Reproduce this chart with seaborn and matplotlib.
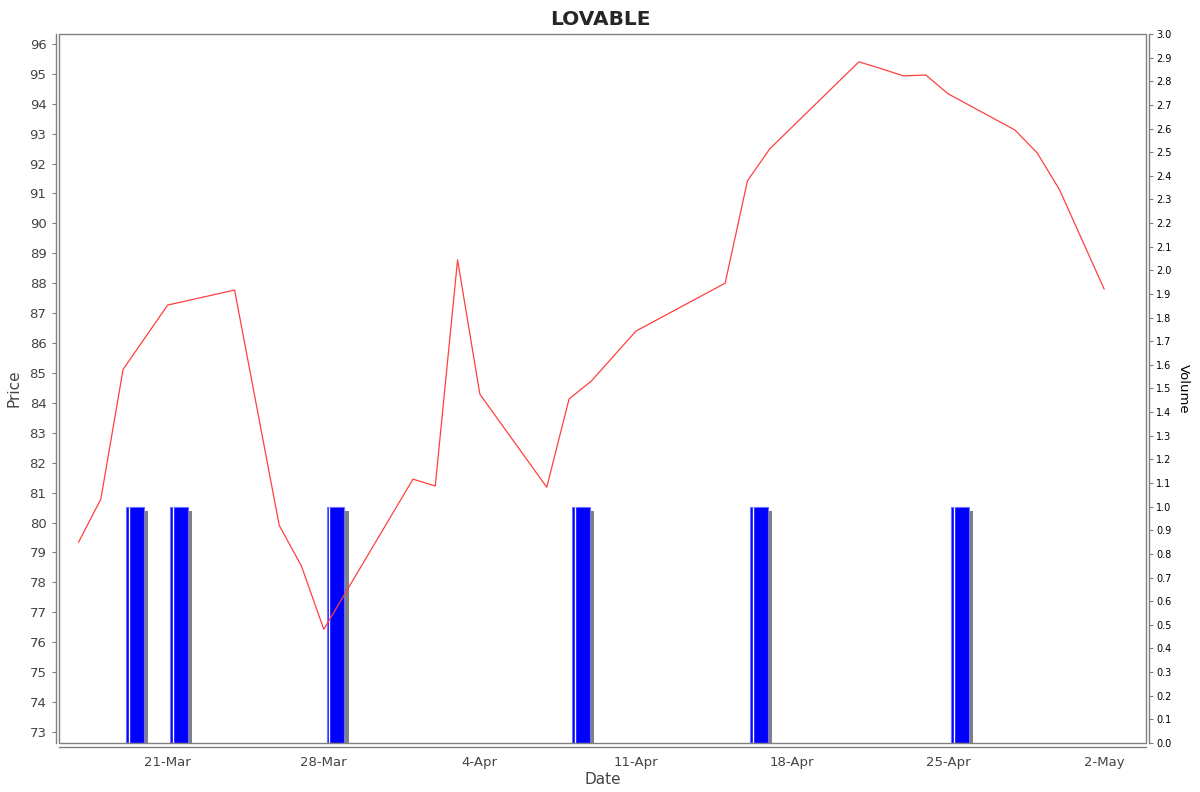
"""
LOVABLE price / volume chart
"""
import pandas as pd
import numpy as np
import matplotlib
matplotlib.use('Agg')
import matplotlib.pyplot as plt
import matplotlib.dates as mdates
import matplotlib.patches as mpatches
import matplotlib.patheffects as pe
import seaborn as sns

# ── DATA ─────────────────────────────────────────────────────────────────────
price_dates = ['2025-03-17', '2025-03-18', '2025-03-19', '2025-03-21', '2025-03-24',
               '2025-03-26', '2025-03-27', '2025-03-28', '2025-04-01', '2025-04-02',
               '2025-04-03', '2025-04-04', '2025-04-07', '2025-04-08', '2025-04-09',
               '2025-04-11', '2025-04-15', '2025-04-16', '2025-04-17', '2025-04-21',
               '2025-04-22', '2025-04-23', '2025-04-24', '2025-04-25', '2025-04-28',
               '2025-04-29', '2025-04-30', '2025-05-02']
prices = [79.34, 80.78, 85.12, 87.27, 87.77,
          79.91, 78.54, 76.43, 81.45, 81.22,
          88.78, 84.29, 81.18, 84.13, 84.73,
          86.40, 88.00, 91.42, 92.49, 95.40,
          95.17, 94.93, 94.96, 94.33, 93.12,
          92.35, 91.12, 87.80]

volume_dates = ['2025-03-19', '2025-03-21', '2025-03-28', '2025-04-08',
                '2025-04-16', '2025-04-25']
volumes = [1.0, 1.0, 1.0, 1.0, 1.0, 1.0]

tick_dates = ['2025-03-21', '2025-03-28', '2025-04-04', '2025-04-11',
              '2025-04-18', '2025-04-25', '2025-05-02']

price_df = pd.DataFrame({'date': pd.to_datetime(price_dates), 'price': prices})
vol_df = pd.DataFrame({'date': pd.to_datetime(volume_dates), 'volume': volumes})

# ── STYLE ────────────────────────────────────────────────────────────────────
sns.set_style('white')
plt.rcParams['font.family'] = ['DejaVu Sans']
AXIS = '#808080'
TXT = '#444444'
BLUE = '#0000FF'

fig = plt.figure(figsize=(12, 7.92), dpi=100)
ax = fig.add_axes([59 / 1200, 49 / 792, 1087 / 1200, 709 / 792])
ax2 = ax.twinx()

# volume bars (right axis), drawn under the price line
bar_start = vol_df['date'] + pd.Timedelta(hours=3)
bars = ax2.bar(bar_start, vol_df['volume'], width=0.8, align='edge',
               color=BLUE, edgecolor='#7070FF', linewidth=0.8, zorder=2)
for b in bars:
    b.set_path_effects([pe.SimplePatchShadow(offset=(3, -3), shadow_rgbFace='#808080', alpha=1.0),
                        pe.Normal()])
ax2.vlines(bar_start + pd.Timedelta(hours=3), 0, vol_df['volume'],
           color='white', lw=1.0, zorder=3)
vol_ticks = np.round(np.arange(0, 3.01, 0.1), 1)
ax2.set_ylim(0, 3.0)
ax2.set_yticks(vol_ticks)
ax2.set_yticklabels([f'{v:.1f}' for v in vol_ticks])
ax2.tick_params(axis='y', labelsize=7, colors=AXIS, labelcolor='black',
                length=3, width=0.8, pad=2)
ax2.set_ylabel('Volume', fontsize=9.5, color='black', rotation=270, labelpad=13)

# price line (left axis)
ax.set_zorder(ax2.get_zorder() + 1)
ax.patch.set_visible(False)
sns.lineplot(data=price_df, x='date', y='price', ax=ax, color='#FF4040', lw=0.9)
ax.set_ylim(72.63, 96.33)
ax.set_yticks(range(73, 97))
ax.set_xlim(pd.Timestamp('2025-03-16 03:00'), pd.Timestamp('2025-05-03 21:00'))
ax.set_xticks(pd.to_datetime(tick_dates))
ax.xaxis.set_major_formatter(mdates.DateFormatter('%-d-%b'))
ax.set_xlabel('Date', fontsize=11, color=TXT, labelpad=2)
ax.set_ylabel('Price', fontsize=11, color=TXT, labelpad=6)
ax.tick_params(axis='both', labelsize=9.5, labelcolor=TXT, colors=AXIS, length=3, width=0.8)
ax.grid(False)
ax2.grid(False)

# axis lines sit slightly outside the plot frame
for a in (ax, ax2):
    for s in a.spines.values():
        s.set_visible(False)
ax.spines['left'].set_visible(True)
ax.spines['left'].set_position(('outward', 2.5))
ax.spines['bottom'].set_visible(True)
ax.spines['bottom'].set_position(('outward', 3))
ax2.spines['right'].set_visible(True)
ax2.spines['right'].set_position(('outward', 2.5))
for s in (ax.spines['left'], ax.spines['bottom'], ax2.spines['right']):
    s.set_color(AXIS)
    s.set_linewidth(1.0)
frame = mpatches.Rectangle((0, 0), 1, 1, transform=ax.transAxes, fill=False,
                           edgecolor=AXIS, lw=1.0, clip_on=False, zorder=10)
ax.add_patch(frame)

fig.suptitle('LOVABLE', fontsize=14.5, fontweight='bold', y=0.988)
plt.savefig('out.png', dpi=100)
plt.close()
